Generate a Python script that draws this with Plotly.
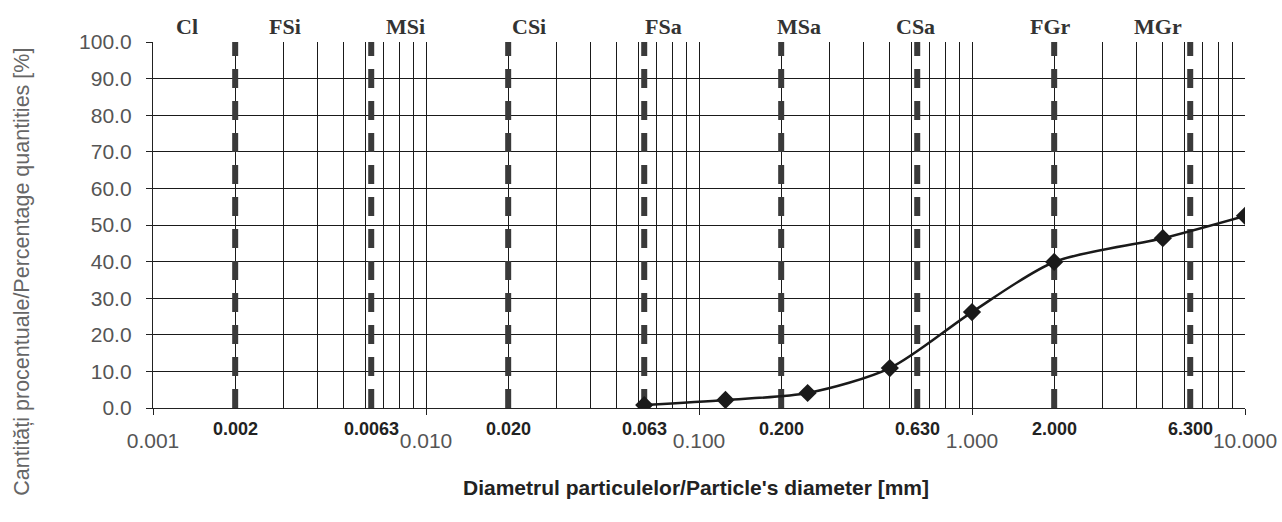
import numpy as np
import plotly.graph_objects as go

# Data
diam = [0.063, 0.125, 0.25, 0.5, 1.0, 2.0, 5.0, 10.0]
passing = [0.8, 2.2, 4.1, 10.9, 26.2, 39.9, 46.4, 52.5]

boundaries = [0.002, 0.0063, 0.020, 0.063, 0.200, 0.630, 2.000, 6.300]
boundary_labels = ["0.002", "0.0063", "0.020", "0.063", "0.200", "0.630", "2.000", "6.300"]

fractions = ["Cl", "FSi", "MSi", "CSi", "FSa", "MSa", "CSa", "FGr", "MGr"]
fraction_pos = [0.00133, 0.00305, 0.0084, 0.0238, 0.0743, 0.233, 0.621, 1.94, 4.79]

major_ticks = [0.001, 0.01, 0.1, 1.0, 10.0]
major_labels = ["0.001", "0.010", "0.100", "1.000", "10.000"]
minor_ticks = [m * 10.0 ** e for e in range(-3, 1) for m in range(2, 10)]
y_ticks = list(range(0, 101, 10))

SANS = "Liberation Sans, Arial"

fig = go.Figure()

for b in boundaries:
    fig.add_trace(go.Scatter(
        x=[b, b], y=[0, 100], mode="lines",
        line=dict(color="#3a3a3a", width=6, dash="19px,13px"),
        hoverinfo="skip", showlegend=False))

fig.add_trace(go.Scatter(
    x=diam, y=passing, mode="lines+markers",
    line=dict(color="#1a1a1a", width=2.5, shape="spline", smoothing=0.8),
    marker=dict(symbol="diamond", size=14, color="#1a1a1a"),
    showlegend=False))

annotations = []
for lab, b in zip(boundary_labels, boundaries):
    annotations.append(dict(
        x=np.log10(b), y=-0.058, xref="x", yref="paper", text="<b>" + lab + "</b>",
        showarrow=False, xanchor="center", yanchor="middle",
        font=dict(family=SANS, size=18, color="#222")))
for lab, p in zip(fractions, fraction_pos):
    annotations.append(dict(
        x=np.log10(p), y=1.042, xref="x", yref="paper", text="<b>" + lab + "</b>",
        showarrow=False, xanchor="center", yanchor="middle",
        font=dict(family="Liberation Serif, Times New Roman", size=22, color="#333")))
annotations.append(dict(
    x=0.497, y=-0.216, xref="paper", yref="paper",
    text="<b>Diametrul particulelor/Particle's diameter [mm]</b>",
    showarrow=False, xanchor="center", yanchor="middle",
    font=dict(family=SANS, size=21, color="#222")))
annotations.append(dict(
    x=-0.12, y=0.372, xref="paper", yref="paper", textangle=-90,
    text="Cantități procentuale/Percentage quantities [%]",
    showarrow=False, xanchor="center", yanchor="middle",
    font=dict(family=SANS, size=21.5, color="#666")))

fig.update_layout(
    width=1282, height=522,
    margin=dict(l=153, r=37, t=42, b=114),
    paper_bgcolor="white", plot_bgcolor="white",
    annotations=annotations,
    xaxis=dict(
        type="log", range=[-3, 1],
        tickvals=major_ticks, ticktext=major_labels,
        ticks="outside", ticklen=6, tickcolor="#222",
        ticklabelstandoff=8,
        tickfont=dict(family=SANS, size=21, color="#555"),
        showgrid=True, gridcolor="#1a1a1a", gridwidth=1.4,
        minor=dict(tickvals=minor_ticks, showgrid=True, gridcolor="#1a1a1a",
                   gridwidth=1.4, ticks=""),
        showline=True, linecolor="#222", linewidth=1.4,
        zeroline=False, automargin=False,
    ),
    yaxis=dict(
        range=[0, 100], tickvals=y_ticks, tickformat=".1f",
        ticks="outside", ticklen=6, tickcolor="#222",
        ticklabelstandoff=10,
        tickfont=dict(family=SANS, size=21, color="#555"),
        showgrid=True, gridcolor="#1a1a1a", gridwidth=1.4,
        showline=True, linecolor="#222", linewidth=1.4,
        zeroline=False, automargin=False,
    ),
)

fig.write_html("out.html", config={"displayModeBar": False},
               post_script="document.body.style.margin='0';")
